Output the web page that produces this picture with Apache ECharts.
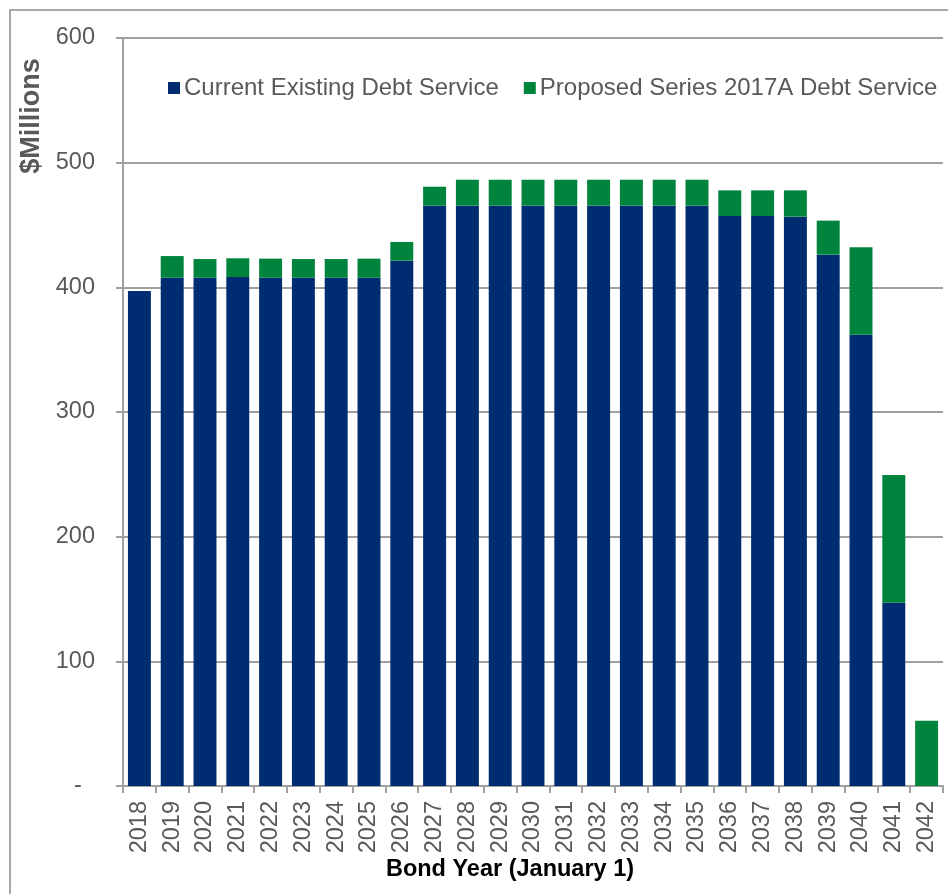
<!DOCTYPE html>
<html>
<head>
<meta charset="utf-8">
<script src="https://cdn.jsdelivr.net/npm/echarts@6/dist/echarts.min.js"></script>
<style>
  html, body { margin: 0; padding: 0; background: #fff; }
  #main { width: 948px; height: 894px; }
</style>
</head>
<body>
<div id="main"></div>
<script>
// bond years (January 1)
const years = ['2018', '2019', '2020', '2021', '2022', '2023', '2024', '2025', '2026', '2027',
  '2028', '2029', '2030', '2031', '2032', '2033', '2034', '2035',
  '2036', '2037', '2038', '2039', '2040', '2041', '2042'];

// $ millions
const existingDebt = [397, 407.7, 407.7, 408.3, 407.7, 407.7, 407.7, 407.7, 421.4, 465.5,
  465.5, 465.5, 465.5, 465.5, 465.5, 465.5, 465.5, 465.5,
  457.2, 457.2, 456.7, 426.2, 362.0, 147.0, 0];
const proposedDebt = [0, 17.4, 15, 15, 15.3, 15, 15, 15.3, 15, 15.2,
  20.8, 20.8, 20.8, 20.8, 20.8, 20.8, 20.8, 20.8,
  20.6, 20.6, 21.1, 27.3, 70.1, 102.5, 52.4];

const yTicks = [0, 100, 200, 300, 400, 500, 600];

const FONT = "'Liberation Sans', Arial, sans-serif";
const GRAY_TXT = '#595959';
const GRID_GRAY = '#a0a0a0';

const chart = echarts.init(document.getElementById('main'), null, { renderer: 'canvas' });

chart.setOption({
  animation: false,
  backgroundColor: '#fff',
  textStyle: { fontFamily: FONT },
  graphic: [
    // outer frame (only left and top edges visible)
    {
      type: 'rect',
      shape: { x: 10, y: 10, width: 1200, height: 1200 },
      style: { fill: 'none', stroke: '#8c8c8c', lineWidth: 1.5 },
      silent: true
    },
    {
      type: 'text',
      x: 32, y: 116,
      rotation: Math.PI / 2,
      style: {
        text: '$Millions',
        font: "bold 27px " + FONT,
        fill: GRAY_TXT,
        textAlign: 'center',
        textVerticalAlign: 'middle'
      }
    },
    {
      type: 'text',
      x: 510, y: 870,
      style: {
        text: 'Bond Year (January 1)',
        font: "bold 23.5px " + FONT,
        fill: '#000',
        textAlign: 'center',
        textVerticalAlign: 'middle'
      }
    }
  ],
  legend: {
    left: 163,
    top: 71,
    itemWidth: 12,
    itemHeight: 12,
    itemGap: 25,
    icon: 'rect',
    textStyle: { fontSize: 24, color: GRAY_TXT, fontFamily: FONT, padding: [0, 0, 0, -1] },
    data: ['Current Existing Debt Service', 'Proposed Series 2017A Debt Service']
  },
  grid: { left: 123, right: 5, top: 38, bottom: 108 },
  xAxis: {
    type: 'category',
    data: years,
    axisLine: { lineStyle: { color: GRID_GRAY, width: 2 } },
    axisTick: { show: true, length: 7, lineStyle: { color: GRID_GRAY, width: 2 } },
    axisLabel: { rotate: 90, margin: 15, fontSize: 23.5, color: GRAY_TXT, fontFamily: FONT }
  },
  yAxis: {
    type: 'value',
    min: yTicks[0],
    max: yTicks[yTicks.length - 1],
    interval: 100,
    axisLine: { show: true, lineStyle: { color: GRID_GRAY, width: 2 } },
    axisTick: { show: true, length: 7, lineStyle: { color: GRID_GRAY, width: 2 } },
    splitLine: { lineStyle: { color: GRID_GRAY, width: 2 } },
    axisLabel: {
      margin: 28,
      fontSize: 23.5,
      color: GRAY_TXT,
      fontFamily: FONT,
      formatter: v => (v === 0 ? '-  ' : String(v))
    }
  },
  series: [
    {
      name: 'Current Existing Debt Service',
      type: 'bar',
      stack: 'debt',
      barCategoryGap: '30%',
      itemStyle: { color: '#002D72' },
      data: existingDebt
    },
    {
      name: 'Proposed Series 2017A Debt Service',
      type: 'bar',
      stack: 'debt',
      barCategoryGap: '30%',
      itemStyle: { color: '#00843D' },
      data: proposedDebt
    }
  ]
});
</script>
</body>
</html>
